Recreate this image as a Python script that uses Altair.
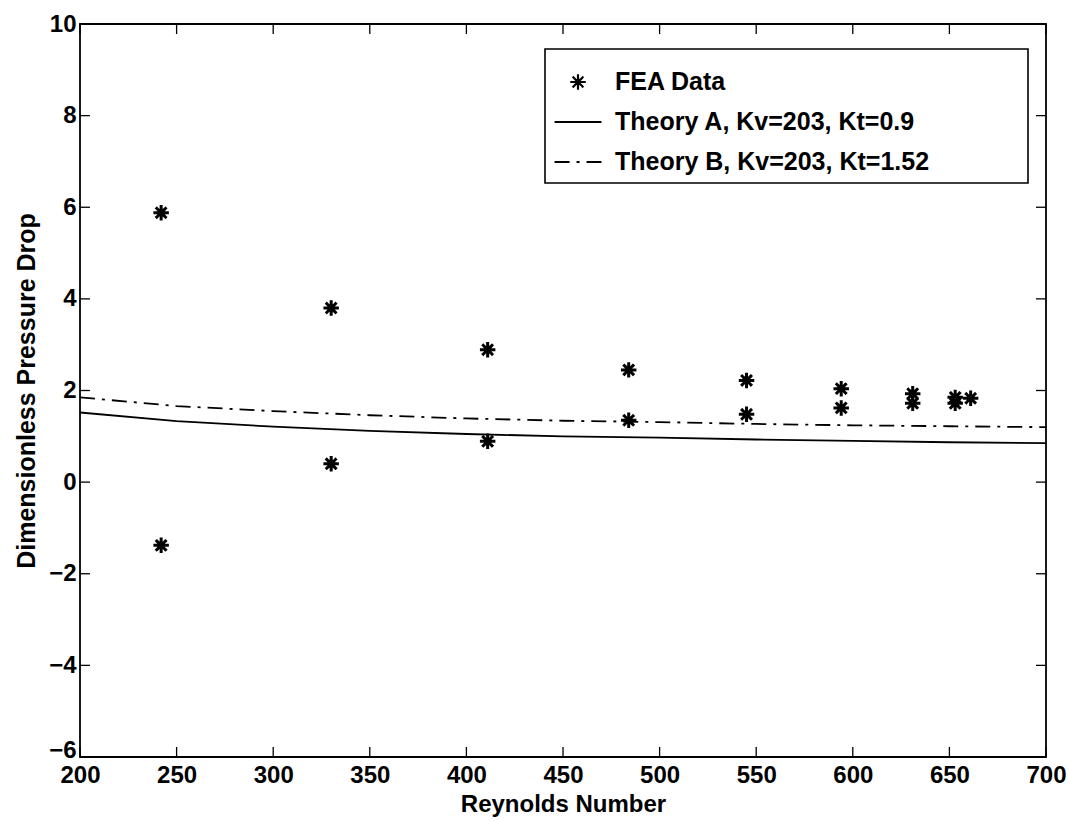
import altair as alt
import pandas as pd

# ---- data ----
series_names = ["FEA Data", "Theory A, Kv=203, Kt=0.9", "Theory B, Kv=203, Kt=1.52"]

fea_re = [242, 242, 330, 330, 411, 411, 484, 484, 545, 545, 594, 594, 631, 631, 653, 653, 661]
fea_dp = [5.88, -1.38, 3.80, 0.40, 2.89, 0.89, 2.45, 1.35, 2.22, 1.48, 2.04, 1.62, 1.93, 1.72, 1.85, 1.72, 1.83]

theory_re = [200, 250, 300, 350, 400, 450, 500, 550, 600, 650, 700]
theory_a = [1.52, 1.33, 1.21, 1.12, 1.05, 1.00, 0.97, 0.93, 0.90, 0.87, 0.85]
theory_b = [1.85, 1.66, 1.55, 1.46, 1.39, 1.34, 1.31, 1.27, 1.24, 1.22, 1.20]

x_ticks = [200, 250, 300, 350, 400, 450, 500, 550, 600, 650, 700]
y_ticks = [-6, -4, -2, 0, 2, 4, 6, 8, 10]

# ---- tables ----
fea_df = pd.DataFrame({"re": fea_re, "dp": fea_dp, "series": series_names[0]})
a_df = pd.DataFrame({"re": theory_re, "dp": theory_a})
b_df = pd.DataFrame({"re": theory_re, "dp": theory_b})
xt_df = pd.DataFrame({"t": x_ticks})
yt_df = pd.DataFrame({"t": y_ticks})

W, H = 966, 733
FONT = "Liberation Sans"

xscale = alt.Scale(domain=[200, 700], nice=False, zero=False)
yscale = alt.Scale(domain=[-6, 10], nice=False, zero=False)

STAR = "M-0.33,0L0.33,0M0,-0.33L0,0.33M-0.23,-0.23L0.23,0.23M-0.23,0.23L0.23,-0.23"
shape_scale = alt.Scale(domain=series_names, range=[STAR, "stroke", "stroke"])
dash_scale = alt.Scale(domain=series_names, range=[[1, 0], [1, 0], [15, 7, 3, 7]])

pad = "\u2800" * 5
legend = alt.Legend(
    title=None,
    orient="none",
    legendX=465,
    legendY=25,
    padding=8,
    strokeColor="black",
    fillColor="white",
    symbolSize=2200,
    symbolStrokeWidth=2.2,
    symbolStrokeColor="black",
    labelOffset=12,
    labelFont=FONT,
    labelFontSize=25,
    labelFontWeight="bold",
    labelColor="black",
    labelLimit=0,
    labelExpr="datum.label + '" + pad + "'",
)

xaxis = alt.Axis(
    values=x_ticks, ticks=False, domain=False, grid=False,
    labelFont=FONT, labelFontSize=24, labelFontWeight="bold", labelColor="black",
    labelPadding=6, labelFlush=False, labelOverlap=False,
    title="Reynolds Number", titleFont=FONT, titleFontSize=24,
    titleFontWeight="bold", titleColor="black", titlePadding=5,
)
yaxis = alt.Axis(
    values=y_ticks, ticks=False, domain=False, grid=False,
    labelFont=FONT, labelFontSize=24, labelFontWeight="bold", labelColor="black",
    labelPadding=4, labelFlush=False, labelOverlap=False,
    labelBaseline={"condition": {"test": "datum.value == -6", "value": "alphabetic"}, "value": "middle"},
    title="Dimensionless Pressure Drop", titleFont=FONT, titleFontSize=25,
    titleFontWeight="bold", titleColor="black", titlePadding=9,
)

X = lambda f: alt.X(f, scale=xscale, axis=xaxis)
Y = lambda f: alt.Y(f, scale=yscale, axis=yaxis)

points = alt.Chart(fea_df).mark_point(
    filled=False, size=2200, color="black", strokeWidth=3, opacity=1
).encode(
    x=X("re:Q"),
    y=Y("dp:Q"),
    shape=alt.Shape("series:N", scale=shape_scale, legend=legend),
    strokeDash=alt.StrokeDash("series:N", scale=dash_scale, legend=legend),
)

line_a = alt.Chart(a_df).mark_line(color="black", strokeWidth=1.8).encode(
    x=X("re:Q"), y=Y("dp:Q"),
)
line_b = alt.Chart(b_df).mark_line(color="black", strokeWidth=1.8, strokeDash=[15, 7, 3, 7]).encode(
    x=X("re:Q"), y=Y("dp:Q"),
)

TL = 10
tick_style = dict(color="black", strokeWidth=1.3)
bottom_ticks = alt.Chart(xt_df).mark_rule(**tick_style).encode(
    x=X("t:Q"), y=alt.value(H), y2=alt.value(H - TL))
top_ticks = alt.Chart(xt_df).mark_rule(**tick_style).encode(
    x=X("t:Q"), y=alt.value(0), y2=alt.value(TL))
left_ticks = alt.Chart(yt_df).mark_rule(**tick_style).encode(
    y=Y("t:Q"), x=alt.value(0), x2=alt.value(TL))
right_ticks = alt.Chart(yt_df).mark_rule(**tick_style).encode(
    y=Y("t:Q"), x=alt.value(W), x2=alt.value(W - TL))

chart = alt.layer(
    points, line_a, line_b, bottom_ticks, top_ticks, left_ticks, right_ticks
).properties(
    width=W, height=H,
    autosize=alt.AutoSizeParams(type="none"),
    padding={"left": 80, "top": 24, "right": 23, "bottom": 64},
    background="white",
).configure_view(
    stroke="black", strokeWidth=1.8
).configure_legend(
    strokeWidth=1.6
)

chart.save("out.html", embed_options={"renderer": "svg", "actions": False})
